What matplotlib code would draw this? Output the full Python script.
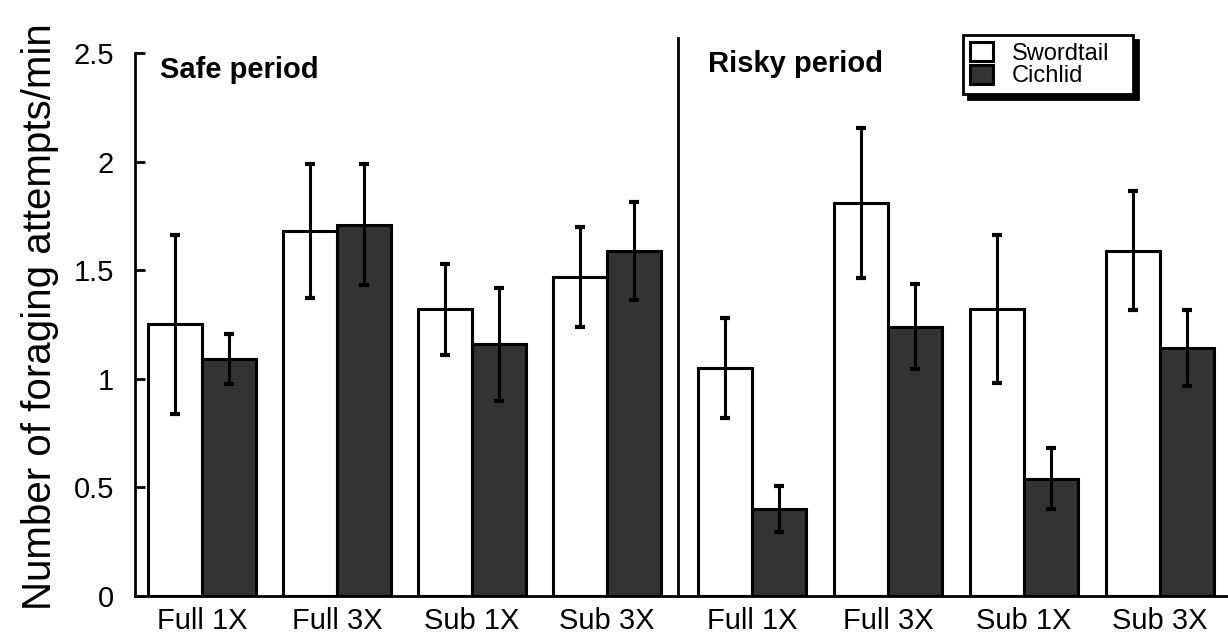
import numpy as np
import matplotlib.pyplot as plt

plt.rcParams['font.family'] = ['Liberation Sans', 'DejaVu Sans']

groups = ['Full 1X', 'Full 3X', 'Sub 1X', 'Sub 3X']

# safe period
safe_swordtail = [1.25, 1.68, 1.32, 1.47]
safe_swordtail_err = [0.41, 0.31, 0.21, 0.23]
safe_cichlid = [1.09, 1.71, 1.16, 1.59]
safe_cichlid_err = [0.115, 0.28, 0.26, 0.225]

# risky period
risky_swordtail = [1.05, 1.81, 1.32, 1.59]
risky_swordtail_err = [0.23, 0.345, 0.34, 0.275]
risky_cichlid = [0.40, 1.24, 0.54, 1.14]
risky_cichlid_err = [0.105, 0.195, 0.14, 0.175]

dark = '#333333'
w = 0.40
lw = 2.2
x = np.arange(len(groups))

fig = plt.figure(figsize=(12.28, 6.35), dpi=100)
ax1 = fig.add_axes([0.1099, 0.0614, 0.4422, 0.8788])
ax2 = fig.add_axes([0.5521, 0.0614, 0.4479, 0.8788], sharey=ax1)


def draw_panel(ax, sw, sw_err, ci, ci_err):
    ax.bar(x - w / 2, sw, w, color='white', edgecolor='black', linewidth=lw,
           label='Swordtail', zorder=2)
    ax.bar(x + w / 2, ci, w, color=dark, edgecolor='black', linewidth=lw,
           label='Cichlid', zorder=2)
    ax.errorbar(x - w / 2, sw, yerr=sw_err, fmt='none', ecolor='black',
                elinewidth=lw, capsize=3.6, capthick=3, zorder=3)
    ax.errorbar(x + w / 2, ci, yerr=ci_err, fmt='none', ecolor='black',
                elinewidth=lw, capsize=3.6, capthick=3, zorder=3)
    ax.set_xticks(x)
    ax.set_xticklabels(groups, fontsize=21)
    ax.tick_params(axis='x', length=0, pad=8)
    for s in ['top', 'right']:
        ax.spines[s].set_visible(False)
    for s in ['left', 'bottom']:
        ax.spines[s].set_linewidth(2.0)


draw_panel(ax1, safe_swordtail, safe_swordtail_err, safe_cichlid, safe_cichlid_err)
draw_panel(ax2, risky_swordtail, risky_swordtail_err, risky_cichlid, risky_cichlid_err)

ax1.set_xlim(-0.496, 3.526)
ax2.set_xlim(-0.544, 3.5)
ax1.set_ylim(0, 2.569)
ax1.set_yticks([0, 0.5, 1, 1.5, 2, 2.5])
ax1.set_yticklabels(['0', '0.5', '1', '1.5', '2', '2.5'], fontsize=21)
ax1.tick_params(axis='y', direction='in', length=7, width=2.0, pad=15)
ax1.spines['left'].set_bounds(0, 2.5)
ax2.tick_params(axis='y', left=False, labelleft=False)

ax1.set_ylabel('Number of foraging attempts/min', fontsize=29)
ax1.yaxis.set_label_coords(-0.14, 0.5)

ax1.text(0.046, 2.42, 'Safe period', fontsize=21, fontweight='bold',
         transform=ax1.get_yaxis_transform(), va='center', ha='left')
ax2.text(0.055, 2.45, 'Risky period', fontsize=21, fontweight='bold',
         transform=ax2.get_yaxis_transform(), va='center', ha='left')

leg = ax2.legend(loc='upper left', mode='expand',
                 bbox_to_anchor=(963 / 1228, 1 - 97 / 635, 170 / 1228, 62 / 635),
                 bbox_transform=fig.transFigure, fontsize=17, frameon=True,
                 fancybox=False, edgecolor='black', framealpha=1,
                 handlelength=0.95, handleheight=0.85, handletextpad=0.8,
                 labelspacing=0.0, borderpad=0.3, borderaxespad=0,
                 shadow={'ox': 3.5, 'oy': -3.5, 'facecolor': 'black',
                         'edgecolor': 'black', 'alpha': 1})
leg.get_frame().set_linewidth(2.0)

fig.savefig('out.png', dpi=100)
